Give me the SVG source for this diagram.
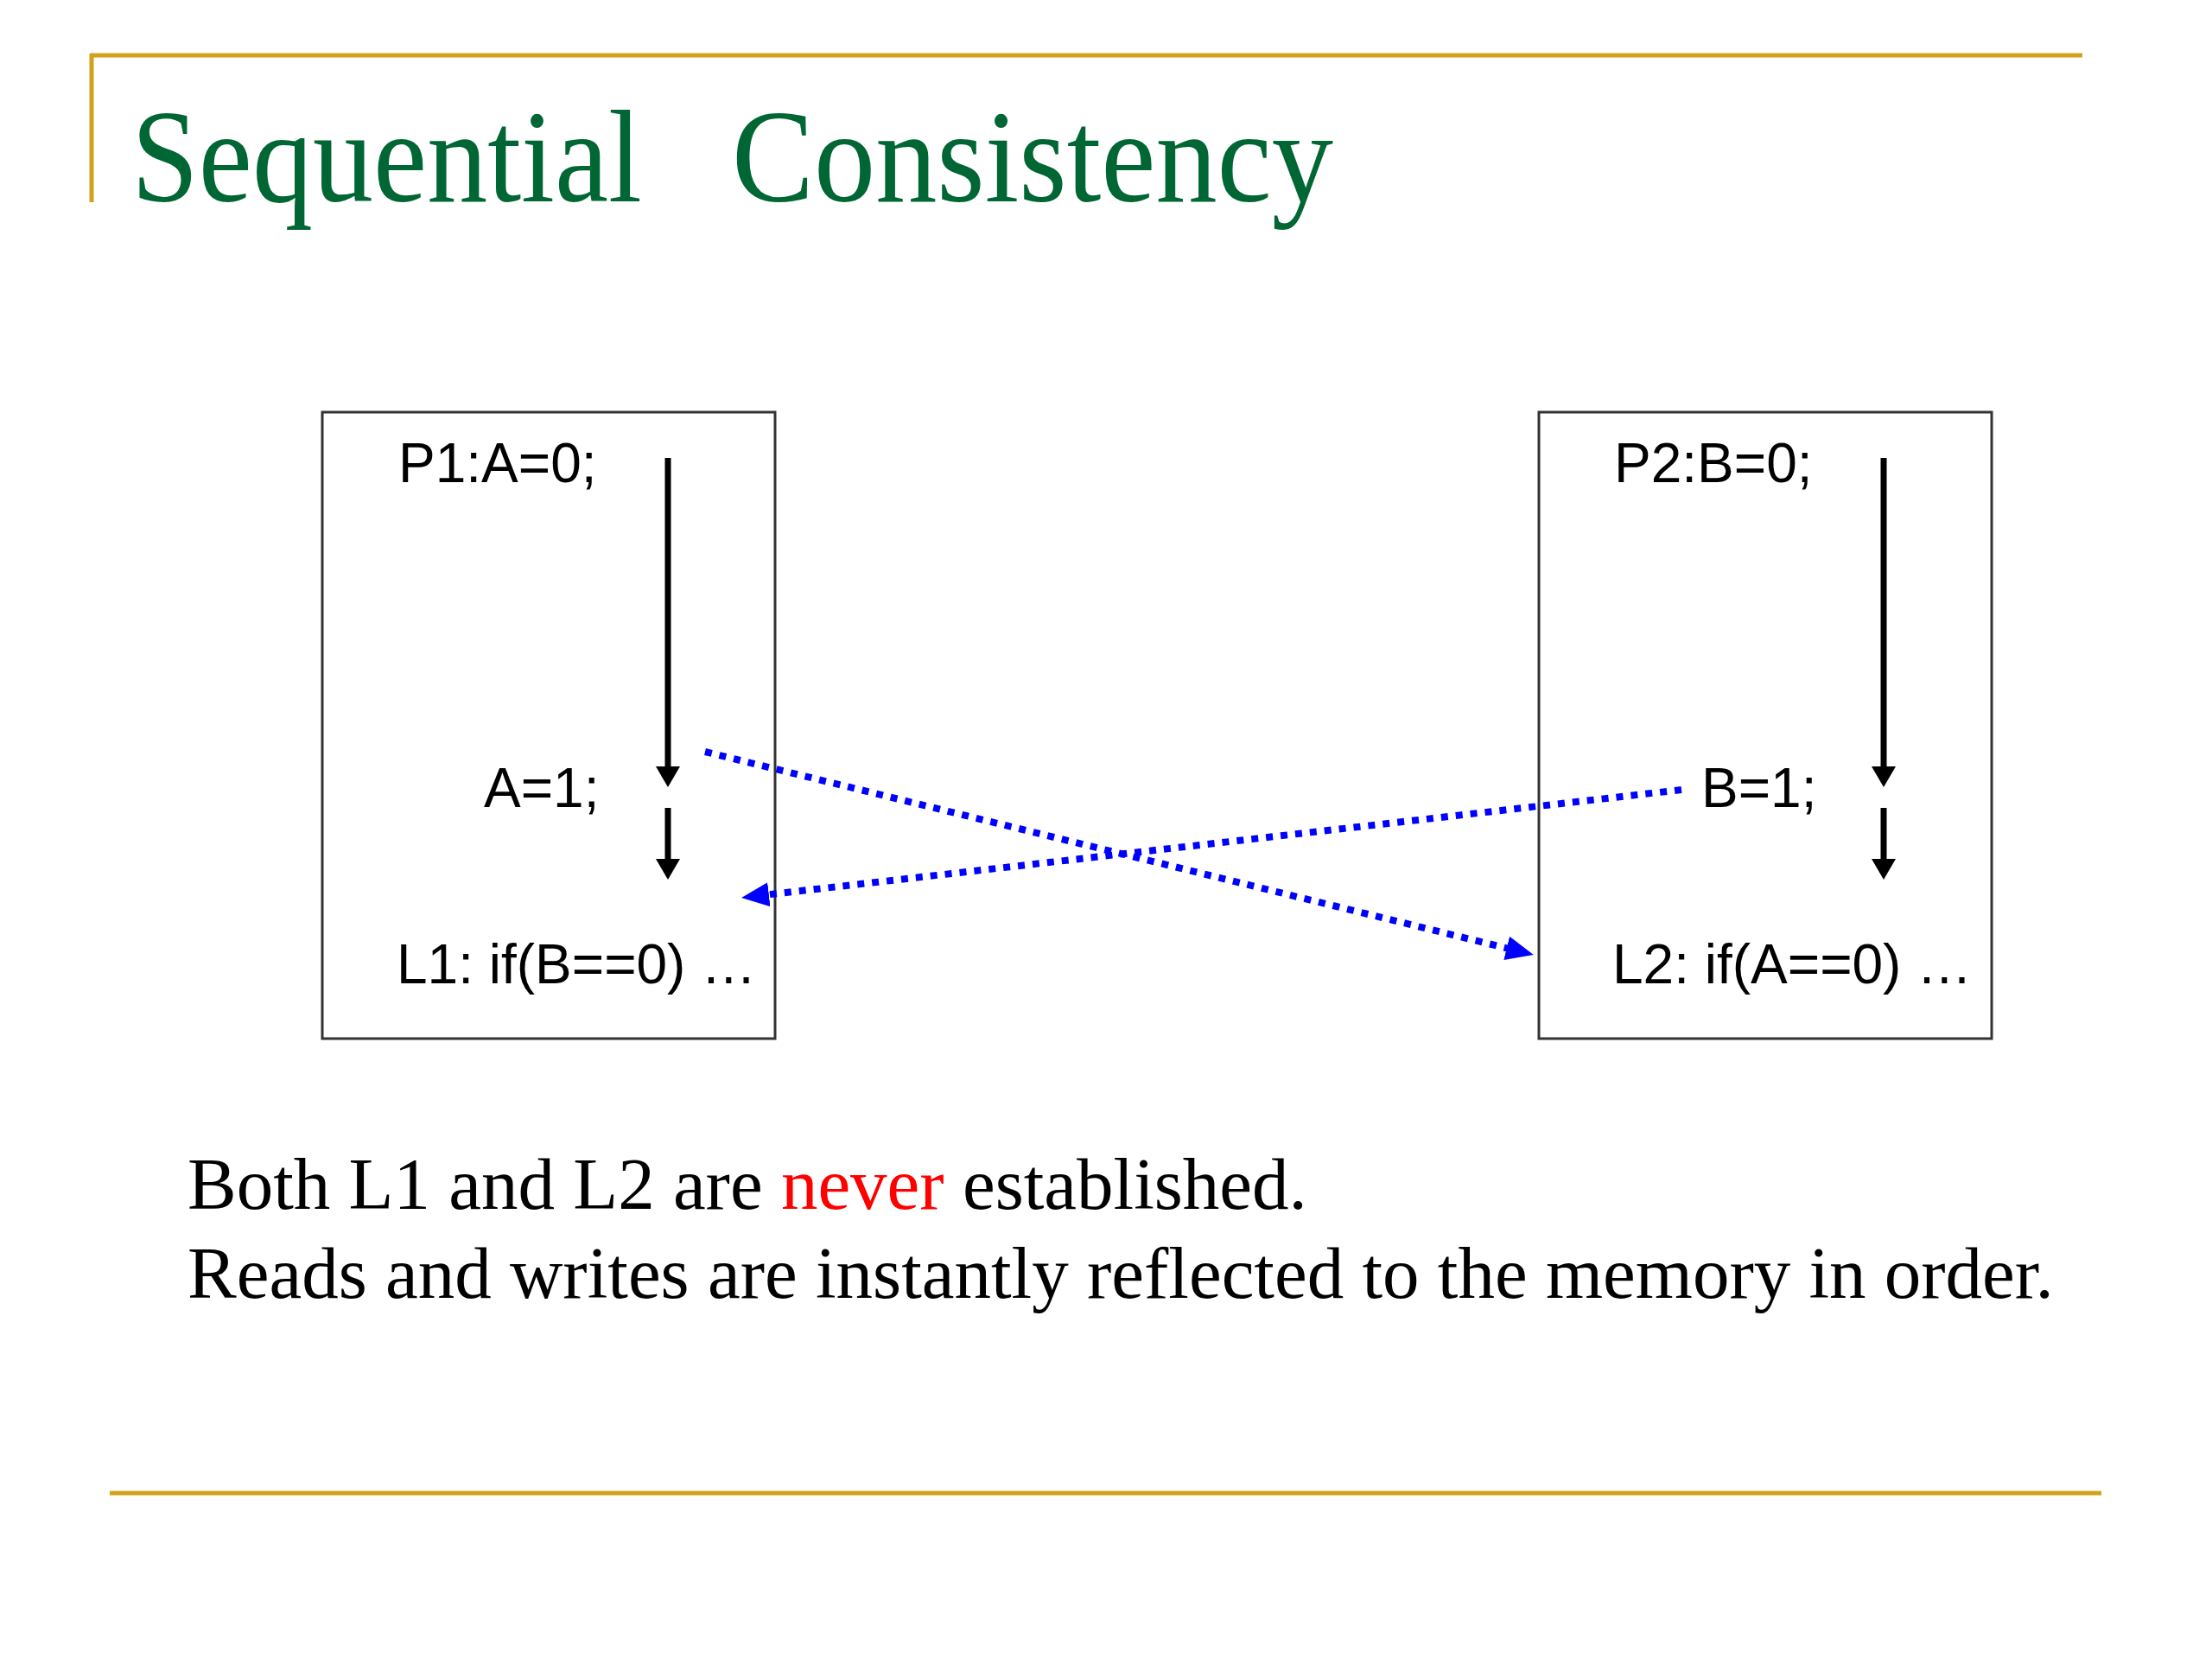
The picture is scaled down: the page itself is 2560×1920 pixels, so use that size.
<svg xmlns="http://www.w3.org/2000/svg" width="2560" height="1920" viewBox="0 0 2560 1920">
  <style>
    .gold { stroke: #D4A21A; stroke-width: 5; fill: none; }
    .box { fill: #FFFFFF; stroke: #333333; stroke-width: 3; }
    .code { font-family: "Liberation Sans", Arial, sans-serif; font-size: 64px; fill: #000000; }
    .title { font-family: "Liberation Serif", "Times New Roman", serif; font-size: 152px; fill: #006633; }
    .body { font-family: "Liberation Serif", "Times New Roman", serif; font-size: 85px; fill: #000000; }
    .seq { stroke: #000000; stroke-width: 7; fill: none; }
    .dot { stroke: #0000FF; stroke-width: 8; stroke-dasharray: 8 9; fill: none; }
  </style>
  <defs>
    <marker id="blackHead" markerWidth="28" markerHeight="24" refX="14" refY="12" orient="0" markerUnits="userSpaceOnUse">
      <path d="M0,0 L28,0 L14,24 Z" fill="#000000"/>
    </marker>
    <marker id="blueHead" markerWidth="34" markerHeight="28" refX="24" refY="14" orient="auto" markerUnits="userSpaceOnUse">
      <path d="M0,0 L32,14 L0,28 Z" fill="#0000FF"/>
    </marker>
  </defs>
  <rect width="2560" height="1920" fill="#FFFFFF"/>

  <g id="frame">
    <line class="gold" x1="104" y1="64" x2="2410" y2="64"/>
    <line class="gold" x1="106" y1="62" x2="106" y2="234"/>
    <line class="gold" x1="127" y1="1728" x2="2432" y2="1728"/>
  </g>

  <g id="title">
    <text class="title" x="152" y="233" textLength="591" lengthAdjust="spacingAndGlyphs">Sequential</text>
    <text class="title" x="847" y="233" textLength="696" lengthAdjust="spacingAndGlyphs">Consistency</text>
  </g>

  <g id="p1">
    <rect class="box" x="373" y="477" width="524" height="725"/>
    <text class="code" x="461" y="558">P1:A=0;</text>
    <text class="code" x="560" y="934">A=1;</text>
    <text class="code" x="459" y="1138">L1: if(B==0) …</text>
  </g>

  <g id="p2">
    <rect class="box" x="1781" y="477" width="524" height="725"/>
    <text class="code" x="1868" y="558">P2:B=0;</text>
    <text class="code" x="1969" y="934">B=1;</text>
    <text class="code" x="1866" y="1138">L2: if(A==0) …</text>
  </g>

  <g id="connectors">
    <line class="seq" x1="773" y1="530" x2="773" y2="899" marker-end="url(#blackHead)"/>
    <line class="seq" x1="773" y1="935" x2="773" y2="1006" marker-end="url(#blackHead)"/>
    <line class="seq" x1="2180" y1="530" x2="2180" y2="899" marker-end="url(#blackHead)"/>
    <line class="seq" x1="2180" y1="935" x2="2180" y2="1006" marker-end="url(#blackHead)"/>
    <line class="dot" x1="816" y1="870" x2="1767" y2="1103" marker-end="url(#blueHead)"/>
    <line class="dot" x1="1946" y1="914" x2="866" y2="1038" marker-end="url(#blueHead)"/>
  </g>

  <g id="caption">
    <text class="body" x="217" y="1399">Both L1 and L2 are <tspan fill="#FF0000">never</tspan> established.</text>
    <text class="body" x="217" y="1502">Reads and writes are instantly reflected to the memory in order.</text>
  </g>
</svg>
